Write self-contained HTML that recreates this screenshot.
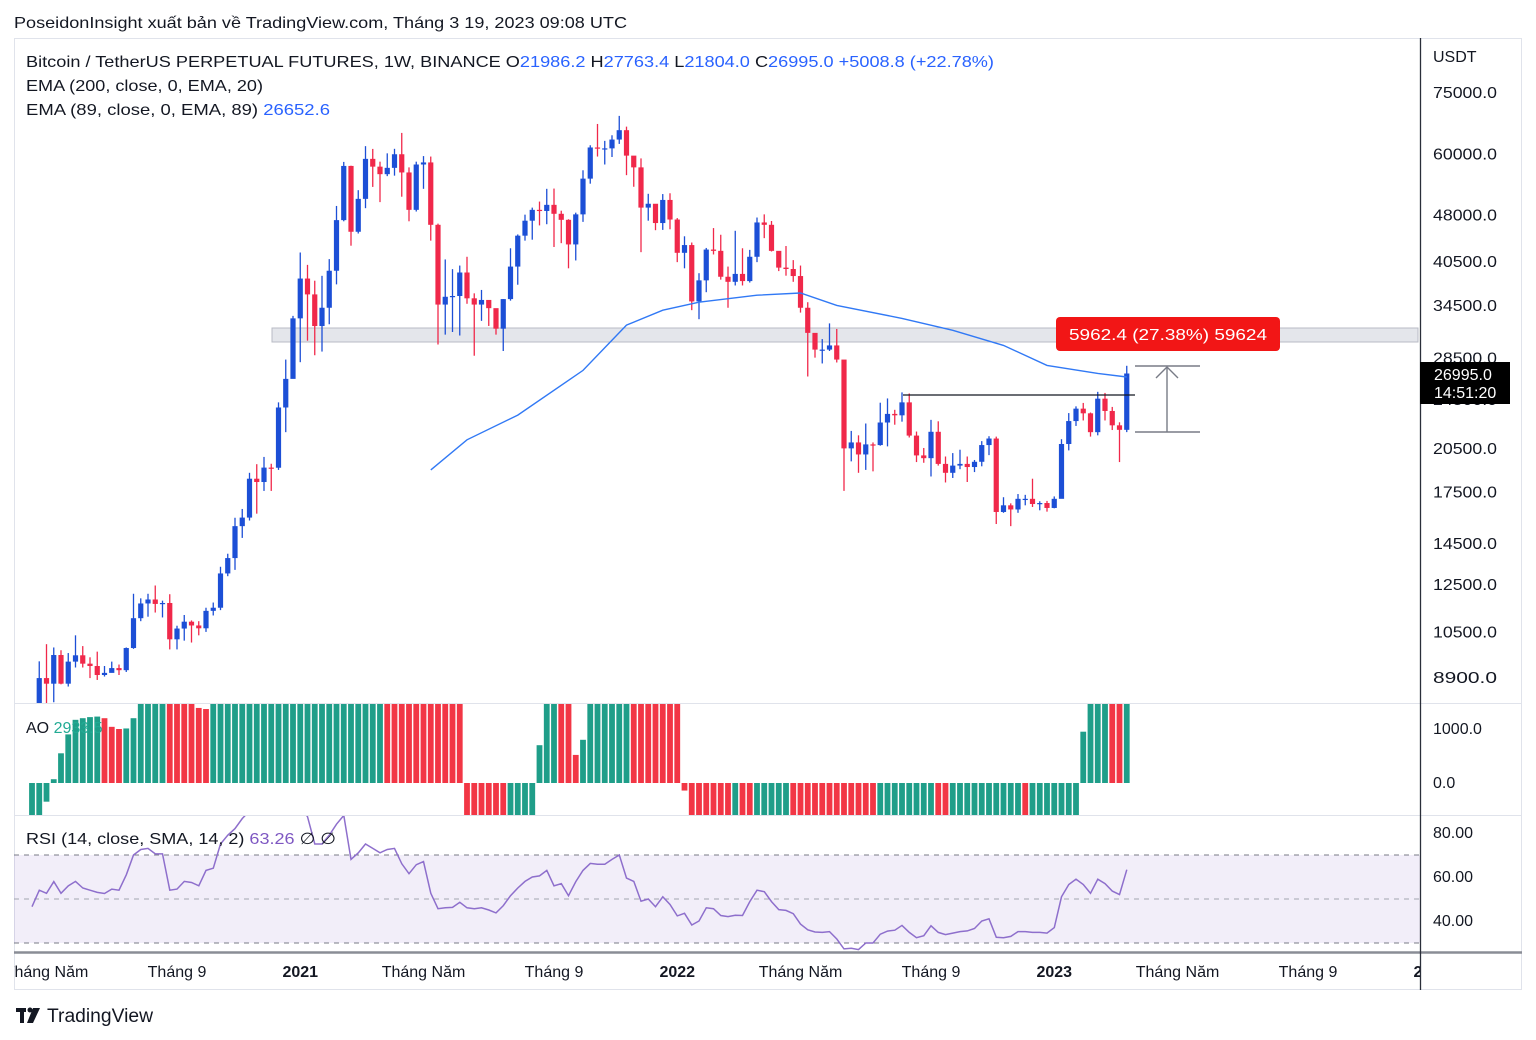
<!DOCTYPE html>
<html><head><meta charset="utf-8">
<style>
html,body{margin:0;padding:0;background:#fff;width:1536px;height:1040px;overflow:hidden;}
svg{display:block;font-family:"Liberation Sans",sans-serif;}
</style></head>
<body>
<svg id="chart" width="1536" height="1040" viewBox="0 0 1536 1040" xmlns="http://www.w3.org/2000/svg">
<defs>
<clipPath id="cpPrice"><rect x="14" y="38" width="1406" height="665"/></clipPath>
<clipPath id="cpAO"><rect x="14" y="704" width="1406" height="111"/></clipPath>
<clipPath id="cpRSI"><rect x="14" y="816" width="1406" height="136"/></clipPath>
<clipPath id="cpTime"><rect x="14" y="953" width="1406" height="37"/></clipPath>
</defs>
<text x="14" y="28" font-size="16" fill="#131722" textLength="613" lengthAdjust="spacingAndGlyphs">PoseidonInsight xuất bản về TradingView.com, Tháng 3 19, 2023 09:08 UTC</text>
<rect x="14.5" y="38.5" width="1507" height="951" fill="#fff" stroke="#e0e3eb"/>
<g id="price-pane"></g>
<g id="ao-pane"></g>
<g id="rsi-pane"></g>
<g id="axes"></g>
<g font-size="16">
<text x="26" y="67" fill="#131722" textLength="968" lengthAdjust="spacingAndGlyphs">Bitcoin / TetherUS PERPETUAL FUTURES, 1W, BINANCE  O<tspan fill="#2962ff">21986.2</tspan>  H<tspan fill="#2962ff">27763.4</tspan>  L<tspan fill="#2962ff">21804.0</tspan>  C<tspan fill="#2962ff">26995.0</tspan>  <tspan fill="#2962ff">+5008.8 (+22.78%)</tspan></text>
<text x="26" y="91" fill="#131722" textLength="237" lengthAdjust="spacingAndGlyphs">EMA (200, close, 0, EMA, 20)</text>
<text x="26" y="115" fill="#131722" textLength="304" lengthAdjust="spacingAndGlyphs">EMA (89, close, 0, EMA, 89)  <tspan fill="#2962ff">26652.6</tspan></text>
<text x="26" y="733" fill="#131722">AO <tspan fill="#22ab94">2933.5</tspan></text>
<text x="26" y="844" fill="#131722" textLength="310" lengthAdjust="spacingAndGlyphs">RSI (14, close, SMA, 14, 2)  <tspan fill="#7e57c2">63.26</tspan>  ∅  ∅</text>
</g>
<g>
<rect x="16" y="1008" width="10" height="4" fill="#131722"/>
<rect x="20" y="1008" width="4" height="15" fill="#131722"/>
<circle cx="30" cy="1010" r="2.5" fill="#131722"/>
<polygon points="33,1008 40,1008 33,1023 27,1023" fill="#131722"/>
<text x="47" y="1022" font-size="19" fill="#131722" textLength="106" lengthAdjust="spacingAndGlyphs">TradingView</text>
</g>
</svg>
<script>
const closes=[7700,8900,8720,9680,8720,9450,9670,9380,9300,9000,9070,9230,9160,9930,11070,11680,11850,11660,11700,10250,10660,10930,10780,10670,11370,11500,13030,13780,15480,15970,18400,18180,19160,19150,23850,26470,33000,
38150,36010,32090,34300,39250,47200,57500,45240,51000,59000,57350,55800,57100,60000,56150,49000,57800,58240,46400,34700,35700,35800,39000,35500,34700,35290,34250,31780,35400,39850,44600,47100,49000,48800,49900,48300,47250,43200,48200,54900,61500,61300,61300,63300,65500,59700,57200,49400,50100,46700,50800,47300,
41900,43100,35100,37900,42400,42200,38400,37700,38800,37800,41300,46800,46400,42200,39700,39500,38500,34300,31300,29450,29450,29900,28400,20550,21000,20100,20850,20800,22580,23300,23180,24300,21530,20030,19830,21830,19420,18800,19300,19420,19200,19570,20800,21300,16300,16700,16450,17100,17100,16780,16840,16540,
17100,20880,22700,23750,23350,21800,24630,23550,22350,21986,26995];
const highs=[7750,9460,10070,9950,9850,9750,10400,10000,9600,9800,9300,9450,9350,9950,12100,11900,12100,12470,11800,12080,10770,11200,10980,10950,11500,11720,13350,14000,15960,16480,18800,19400,19920,19430,24300,28400,33300,
41950,40100,37850,38530,40950,49700,58350,57550,52640,61800,61180,58400,60200,61200,64850,57200,58400,59600,59500,46600,40900,39480,40000,41300,36150,36600,35100,34000,35400,42600,44800,48150,49400,50500,52900,52950,48850,47350,48500,56600,62000,67000,63000,64300,69000,66350,59500,59100,51950,50000,51900,52050,
47550,44500,43500,38900,42650,45850,44750,39850,45400,42600,42350,47650,48200,47050,41550,42950,40800,40000,35000,30700,30600,32400,31750,28250,21900,21550,22500,21000,24270,24650,23650,25200,25100,21850,20580,22800,22680,19950,20200,20450,19950,19700,21100,21480,21450,17200,16820,17400,17350,18400,16950,16970,
17250,21250,23370,23950,24250,23420,25250,25150,23900,22600,27763];
const lows=[6750,7650,8100,8150,8700,8630,9250,9250,8900,8840,8950,9080,9000,9100,9900,10950,11130,11300,11100,9880,9880,10200,10130,10400,10530,11180,11400,12900,13200,14830,15800,16200,17600,17600,19000,21800,26500,
28130,30420,28850,29240,32300,37350,47000,43000,44950,49300,53270,50400,55400,55500,51400,47000,48700,52900,43800,30000,31100,31400,31000,34800,28800,32700,32100,31100,29300,35200,37300,43800,43950,46300,46500,42800,43400,39600,40750,46900,53900,59500,57800,59400,62300,55600,53300,42000,47100,45500,45550,45650,
40500,39600,34000,32900,36300,41650,38000,34300,37200,37200,37600,40500,44200,42100,39200,38550,37700,33700,26700,28600,28000,29300,28100,17600,19600,18800,19000,18900,20750,20700,22400,22650,21380,19550,19500,18550,19300,18150,18450,19050,18180,18850,19250,20050,15600,16250,15480,16250,16700,16600,16400,16320,
16520,17300,20400,22300,22750,21450,21550,22750,21970,19550,21804];
const firstOpen=6850;
const emaIdx=[55,60,67,76,82,87,92,100,106,111,120,127,134,140,147,151];
const emaVals=[19000,21200,23200,27300,32200,34000,35000,35900,36200,34600,33000,31600,29900,27800,27000,26650];
const aoVals=[-900,-800,-346,70,550,900,1170,1200,1220,1230,1200,1040,1000,1010,1200,1600,2000,2600,3000,2800,2500,2100,1700,1390,1370,
1900,2400,2900,3500,4200,5000,5900,6900,8000,9200,10500,11800,13000,14000,14800,15400,15900,16300,16600,16900,17100,17300,17500,17700,
17000,16000,14800,13400,11800,10000,8200,6400,4600,3000,1600,
-700,-1500,-2500,-3500,-4500,-5000,-4500,-3500,-2200,-1000,
700,2000,3000,2800,1700,520,800,1500,2500,3500,4500,5500,6500,6000,5200,4400,3600,2900,2200,1600,
-140,-800,-1500,-2500,-3500,-4500,-5500,-5000,-5500,-6000,-5500,-5000,-4500,-4000,-3500,
-3800,-4300,-5000,-5800,-6500,-7200,-7800,-8400,-9000,-9500,-9800,-10000,
-9600,-9000,-8300,-7500,-6800,-6000,-5300,-4700,-4900,-5100,
-4800,-4500,-4200,-3900,-3600,-3300,-3000,-2700,-2400,-2100,-2300,
-2000,-1700,-1400,-1200,-1000,-800,-650,950,1700,2400,3000,2800,2500,2934];
const rsiVals=[46.5,54,52.6,57.9,52.6,56,58,55,54,53,52.5,54.5,54,61,70,72.5,73,70.5,70.5,54,54.5,58,57.5,56,63,64,75,79,82,86.6,90,89,89.5,89,93,94,95,92,87.4,75,75,79,84,88,68,71,75,73,71,72.5,73,66,61.5,65.6,67,52.6,45.6,46,46.2,48.5,46,45.6,46,45,43.7,47,51.5,55,58,60,60.5,63,56,57,51.5,57.9,63,66.2,65.8,65.8,68,70,59.5,58,49,50,46.5,51,47.5,42.3,43.5,38.2,40,46,45.6,42.5,42,42.6,42.5,48.8,54,53.3,48.8,45.2,44.8,43.3,38.6,36,35,34.8,35.2,31.8,27.3,27.6,27,30,30,34,35.4,35.8,38,34.8,32.4,33.3,37.8,34.8,33.8,34.5,35.2,35.5,36.6,40,41,32.6,32.4,33,35.2,35.2,34.8,34.8,34.5,37,51,56.6,59,56.6,52.6,59,57,53.6,52,63.3];
const priceTicks=[75000,60000,48000,40500,34500,28500,24500,20500,17500,14500,12500,10500,8900];
const aoTicks=[1000,0];
const rsiTicks=[80,60,40];
const timeTickIdx=[2,20,37,54,72,89,106,124,141,158,176,193];
const timeTickLabels=["Tháng Năm","Tháng 9","2021","Tháng Năm","Tháng 9","2022","Tháng Năm","Tháng 9","2023","Tháng Năm","Tháng 9","2024"];
const timeTickBold=[false,false,true,false,false,true,false,false,true,false,false,true];

const NS="http://www.w3.org/2000/svg";
const X0=32, STEP=7.25;
function xAt(i){return X0+i*STEP;}
const LMAX=Math.log(75000);
function yPrice(p){return 93+(LMAX-Math.log(p))*274.5;}
function yAO(v){return 783-v*0.054;}
function yRSI(v){return 877-(v-60)*2.2;}
function mk(tag,attrs,parent){const e=document.createElementNS(NS,tag);for(const k in attrs)e.setAttribute(k,attrs[k]);parent.appendChild(e);return e;}

const pricePane=document.getElementById('price-pane');
const gP=mk('g',{'clip-path':'url(#cpPrice)'},pricePane);
const zone=mk('rect',{x:272,y:328,width:1146,height:14,fill:'#e4e6eb',stroke:'#b8bbc4','stroke-width':1},gP);


for(let i=0;i<closes.length;i++){
  const o=i===0?firstOpen:closes[i-1], c=closes[i];
  const up=c>=o, col=up?'#1c4fd6':'#f0284a';
  const g=mk('g',{},gP);
  
  
  const x=xAt(i);
  mk('line',{x1:x,x2:x,y1:yPrice(highs[i]),y2:yPrice(lows[i]),stroke:col,'stroke-width':1.3},g);
  const yt=yPrice(Math.max(o,c)), yb=yPrice(Math.min(o,c));
  mk('rect',{x:x-2.6,y:yt,width:5.2,height:Math.max(1.2,yb-yt),fill:col},g);
}
let d='';
for(let k=0;k<emaIdx.length;k++){d+=(k?'L':'M')+xAt(emaIdx[k]).toFixed(1)+','+yPrice(emaVals[k]).toFixed(1);}
const ema=mk('path',{d:d,fill:'none',stroke:'#3179f5','stroke-width':1.4},gP);


const hl=mk('line',{x1:903,x2:1135,y1:395,y2:395,stroke:'#131722','stroke-width':1.3},gP);


const mg=mk('g',{stroke:'#787b86','stroke-width':1.4,fill:'none'},gP);


mk('line',{x1:1135,x2:1200,y1:366,y2:366},mg);
mk('line',{x1:1135,x2:1200,y1:432,y2:432},mg);
mk('line',{x1:1167,x2:1167,y1:432,y2:367},mg);
mk('polyline',{points:'1156,378 1167,367 1178,378'},mg);
const lb=mk('g',{},gP);


mk('rect',{x:1056,y:317,width:224,height:34,rx:4,fill:'#f21616'},lb);
const lt=mk('text',{x:1168,y:340,'text-anchor':'middle','font-size':16,fill:'#fff',textLength:198,lengthAdjust:'spacingAndGlyphs'},lb);
lt.textContent='5962.4 (27.38%) 59624';

const aoPane=document.getElementById('ao-pane');
const gA=mk('g',{'clip-path':'url(#cpAO)'},aoPane);
for(let i=0;i<aoVals.length;i++){
  const v=aoVals[i], up=i===0||v>=aoVals[i-1];
  const y1=yAO(Math.max(v,0)), y2=yAO(Math.min(v,0));
  const r=mk('rect',{x:xAt(i)-2.9,y:y1,width:5.8,height:Math.max(1,y2-y1),fill:up?'#1f9e89':'#f23645'},gA);
  
  
}

const rsiPane=document.getElementById('rsi-pane');
const gR=mk('g',{'clip-path':'url(#cpRSI)'},rsiPane);
const band=mk('rect',{x:14,y:yRSI(70),width:1406,height:yRSI(30)-yRSI(70),fill:'#7e57c2','fill-opacity':0.1},gR);


[70,50,30].forEach(v=>{
  const l=mk('line',{x1:14,x2:1420,y1:yRSI(v),y2:yRSI(v),stroke:v===50?'#a3a6af':'#787b86','stroke-dasharray':'5,5','stroke-width':1},gR);
  
  
});
let rd='';
for(let i=0;i<rsiVals.length;i++){rd+=(i?'L':'M')+xAt(i).toFixed(1)+','+yRSI(rsiVals[i]).toFixed(1);}
const rl=mk('path',{d:rd,fill:'none',stroke:'#8e6fcc','stroke-width':1.5},gR);



const ax=document.getElementById('axes');
mk('line',{x1:14,x2:1420,y1:703.5,y2:703.5,stroke:'#e0e3eb'},ax);
mk('line',{x1:14,x2:1420,y1:815.5,y2:815.5,stroke:'#e0e3eb'},ax);
mk('line',{x1:1420,x2:1522,y1:703.5,y2:703.5,stroke:'#e0e3eb'},ax);
mk('line',{x1:1420,x2:1522,y1:815.5,y2:815.5,stroke:'#e0e3eb'},ax);
mk('line',{x1:14,x2:1522,y1:952.5,y2:952.5,stroke:'#8a8d96','stroke-width':2.5},ax);
mk('line',{x1:1420.5,x2:1420.5,y1:38,y2:990,stroke:'#2a2e39','stroke-width':1.3},ax);
const usdt=mk('text',{x:1433,y:62,'font-size':16,fill:'#131722'},ax);
usdt.textContent='USDT';


priceTicks.forEach(p=>{
  const t=mk('text',{x:1433,y:yPrice(p)+5,'font-size':16,fill:'#131722',textLength:64,lengthAdjust:'spacingAndGlyphs'},ax);
  t.textContent=p.toFixed(1);
  
  
});
aoTicks.forEach(v=>{
  const t=mk('text',{x:1433,y:yAO(v)+5,'font-size':16,fill:'#131722'},ax);
  t.textContent=v.toFixed(1);
  
  
});
rsiTicks.forEach(v=>{
  const t=mk('text',{x:1433,y:yRSI(v)+5,'font-size':16,fill:'#131722'},ax);
  t.textContent=v.toFixed(2);
  
  
});
const cp=mk('g',{},ax);


mk('rect',{x:1420,y:362,width:90,height:42,fill:'#000'},cp);
const c1=mk('text',{x:1434,y:380,'font-size':16,fill:'#fff'},cp); c1.textContent='26995.0';
const c2=mk('text',{x:1434,y:398,'font-size':16,fill:'#fff'},cp); c2.textContent='14:51:20';
const gT=mk('g',{'clip-path':'url(#cpTime)'},ax);
timeTickIdx.forEach((ix,k)=>{
  const t=mk('text',{x:xAt(ix),y:977,'text-anchor':'middle','font-size':16,fill:'#131722','font-weight':timeTickBold[k]?'bold':'normal'},gT);
  t.textContent=timeTickLabels[k];
  
  
});
</script>
</body></html>
